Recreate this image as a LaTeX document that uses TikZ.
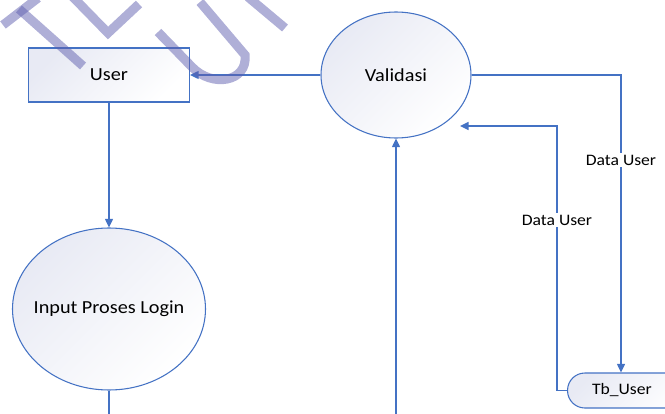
\documentclass[tikz,border=0pt]{standalone}
\usepackage{fontspec}
\setmainfont{Carlito}[FakeStretch=1.1]
\usetikzlibrary{shapes.geometric,arrows.meta,calc}
\definecolor{lineblue}{HTML}{4472C4}
\definecolor{fillc}{HTML}{E8EAF4}
\definecolor{wmark}{RGB}{95,95,175}
\begin{document}
\begin{tikzpicture}[x=0.75pt,y=-0.75pt,
  shapebox/.style={draw=lineblue,line width=0.8pt,top color=fillc,bottom color=white,shading angle=45,inner sep=0pt,font=\fontsize{13.8}{16}\selectfont},
  procell/.style={shapebox,ellipse},
  conn/.style={draw=lineblue,line width=1.1pt},
  arr/.style={conn,-{Triangle[length=6.5pt,width=6pt]}},
  flowlbl/.style={fill=white,inner sep=1.5pt,font=\fontsize{12}{14}\selectfont},
  wm/.style={draw=wmark,opacity=0.5,line width=6.8pt}]
\useasboundingbox (0,0) rectangle (665,414);
% nodes
\node[shapebox,rectangle,minimum width=120.75pt,minimum height=40.5pt] (user) at (109,75) {User};
\node[procell,minimum width=112.5pt,minimum height=94.5pt] (val) at (396,75) {\makebox[0pt]{Validasi}};
\node[procell,minimum width=144.75pt,minimum height=121.5pt] (inp) at (109,309) {\makebox[0pt]{Input Proses Login}};
\node[shapebox,rectangle,rounded corners=13pt,anchor=west,minimum height=26.25pt,inner xsep=0pt,font=\fontsize{12}{14}\selectfont] (tb) at (567,390.5) {\hspace*{18.4pt}Tb\_User\hspace*{36pt}};
% helper coordinates
\coordinate (tbx) at (621,0);
\coordinate (ret) at (557,126);
\coordinate (vin) at (460,126);
\coordinate (b1) at (396,420);
\coordinate (b2) at (109,420);
% connectors
\draw[arr] (val.west) -- (user.east);
\draw[arr] (user.south) -- (inp.north);
\draw[conn] (inp.south) -- (b2);
\draw[arr] (b1) -- (val.south);
\draw[arr] (val.east) -| (tb.north -| tbx);
\draw[arr] (tb.west) -| (ret) -- (vin);
% labels
\node[flowlbl] (l1) at (621,160) {Data User};
\node[flowlbl] (l2) at (557,220) {Data User};
% watermark
\draw[wm] (3,25) -- (38,-2);
\draw[wm] (19,9) -- (83,66);
\draw[wm] (68,-8) -- (108,33) -- (139,4);
\draw[wm] (158,32) -- (192,67) .. controls (212,88) and (248,82) .. (245,55) -- (200,2);
\draw[wm] (248,-3) -- (285,28);
\end{tikzpicture}
\end{document}
